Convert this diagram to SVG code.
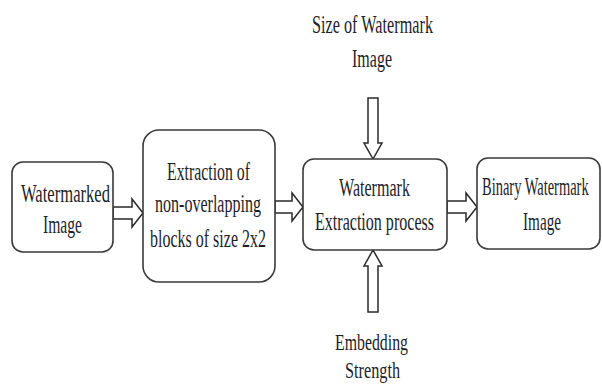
<svg xmlns="http://www.w3.org/2000/svg" width="602" height="391" viewBox="0 0 602 391">
<style>
.box{fill:#fff;stroke:#3a3a3a;stroke-width:1.6}
.arr{fill:#fff;stroke:#2a2a2a;stroke-width:1.5;stroke-linejoin:miter}
text{font-family:"Liberation Serif","Times New Roman",serif;font-size:26px;fill:#1e1e28}
.sm{font-size:24px}
</style>
<rect width="602" height="391" fill="#fff"/>
<g id="connectors">
<polygon class="arr" points="113,207 132,207 132,199 143,213 132,227 132,219 113,219"/>
<polygon class="arr" points="275,201 292,201 292,193 303,207 292,221 292,213 275,213"/>
<polygon class="arr" points="447,201 466,201 466,193 477,207 466,221 466,213 447,213"/>
<polygon class="arr" points="368,98 378,98 378,143 382,143 373,159 364,143 368,143"/>
<polygon class="arr" points="368,312 378,312 378,266 382,266 373,250 364,266 368,266"/>
</g>
<g id="n-watermarked">
<rect class="box" x="12" y="162" width="101" height="90" rx="11"/>
<text x="21" y="202" textLength="89" lengthAdjust="spacingAndGlyphs">Watermarked</text>
<text x="43" y="233" textLength="39" lengthAdjust="spacingAndGlyphs">Image</text>
</g>
<g id="n-extraction">
<rect class="box" x="143" y="130" width="132" height="152" rx="16"/>
<text x="167" y="180" textLength="83" lengthAdjust="spacingAndGlyphs">Extraction of</text>
<text x="155" y="212" textLength="106" lengthAdjust="spacingAndGlyphs">non-overlapping</text>
<text x="150" y="247" textLength="116" lengthAdjust="spacingAndGlyphs">blocks of size 2x2</text>
</g>
<g id="n-process">
<rect class="box" x="303" y="159" width="144" height="91" rx="11"/>
<text x="339" y="196" textLength="71" lengthAdjust="spacingAndGlyphs">Watermark</text>
<text x="315" y="230" textLength="119" lengthAdjust="spacingAndGlyphs">Extraction process</text>
</g>
<g id="n-binary">
<rect class="box" x="477" y="158" width="123" height="91" rx="11"/>
<text transform="translate(482,195) scale(0.557,1)" x="0" y="0">Binary Watermark</text>
<text x="523" y="230" textLength="38" lengthAdjust="spacingAndGlyphs">Image</text>
</g>
<g id="n-size">
<text x="312" y="33" textLength="121" lengthAdjust="spacingAndGlyphs">Size of Watermark</text>
<text x="352" y="67" textLength="40" lengthAdjust="spacingAndGlyphs">Image</text>
</g>
<g id="n-strength">
<text class="sm" x="335" y="350" textLength="73" lengthAdjust="spacingAndGlyphs">Embedding</text>
<text class="sm" x="345" y="378" textLength="55" lengthAdjust="spacingAndGlyphs">Strength</text>
</g>
</svg>
